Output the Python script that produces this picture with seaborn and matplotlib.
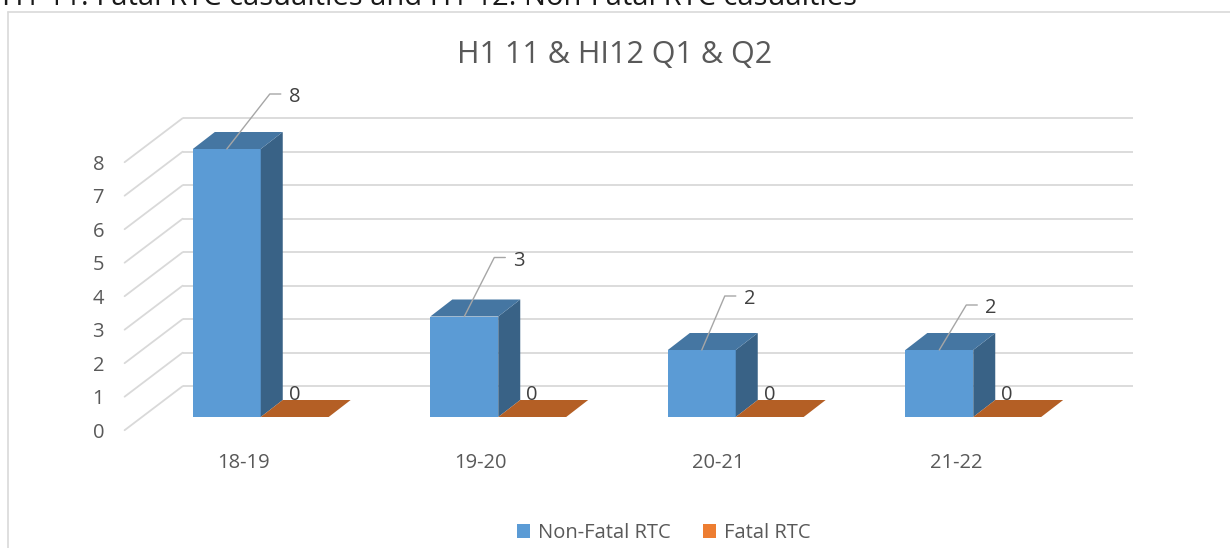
import matplotlib
matplotlib.use("Agg")
import numpy as np
import pandas as pd
import matplotlib.pyplot as plt
import matplotlib.transforms as mtransforms
from matplotlib.patches import Polygon
from matplotlib.lines import Line2D
import seaborn as sns

# ---- data -------------------------------------------------------------
periods = ["18-19", "19-20", "20-21", "21-22"]
non_fatal = [8, 3, 2, 2]
fatal = [0, 0, 0, 0]
series_names = ["Non-Fatal RTC", "Fatal RTC"]
y_ticks = [0, 1, 2, 3, 4, 5, 6, 7, 8]
chart_title = "H1 11 & HI12 Q1 & Q2"
heading = "H1 11: Fatal RTC casualties and H1 12: Non-Fatal RTC casualties"

# ---- style ------------------------------------------------------------
W, H, DPI = 1230, 548, 100
BLUE, ORANGE = "#5B9BD5", "#ED7D31"
GRID = "#D9D9D9"
TICK_COLOR = "#595959"
LABEL_COLOR = "#404040"
FS = 14.5

# pseudo-3D geometry (pixels): offsets of the front and back planes
# relative to the plane of the column faces, and column depth
FRONT = (-17.4, -13.2)
BACK = (40.6, 30.8)
DEPTH = (22.0, 17.0)
# leader line (dx, rise) for each callout, in pixels
LEADERS = [(43, 55), (30, 59), (23, 54), (27, 45)]

sns.set_theme(style="white")
plt.rcParams["font.family"] = ["Open Sans", "DejaVu Sans"]

fig = plt.figure(figsize=(W / DPI, H / DPI), dpi=DPI)
fig.patch.set_facecolor("white")
ax = fig.add_axes([142 / W, (H - 417) / H, 950 / W, 268 / H])

df = pd.DataFrame({
    "period": periods * 2,
    "count": non_fatal + fatal,
    "series": [series_names[0]] * len(periods) + [series_names[1]] * len(periods),
})

sns.barplot(data=df, x="period", y="count", hue="series", order=periods,
            hue_order=series_names, palette=[BLUE, ORANGE], saturation=1,
            width=0.572, dodge=True, linewidth=0, zorder=3, ax=ax)

ax.set_xlim(-0.5, len(periods) - 0.5)
ax.set_ylim(0, max(y_ticks))
ax.set_yticks(y_ticks)
ax.set_xlabel("")
ax.set_ylabel("")
ax.tick_params(left=False, bottom=False, labelleft=False, labelbottom=False)
for s in ax.spines.values():
    s.set_visible(False)
ax.patch.set_alpha(0)

pix = mtransforms.Affine2D().scale(1 / DPI) + fig.dpi_scale_trans


def at(x, y, base):
    """Pixel-unit transform anchored at point (x, y) of `base`."""
    return pix + mtransforms.ScaledTranslation(x, y, base)


yax = ax.get_yaxis_transform()
back_shift = mtransforms.ScaledTranslation(BACK[0] / DPI, BACK[1] / DPI, fig.dpi_scale_trans)

# back wall gridlines and side wall diagonals
ax.hlines(ax.get_yticks(), 0, 1, transform=yax + back_shift, color=GRID,
          lw=1.3, zorder=0.5, clip_on=False)
for v in ax.get_yticks():
    ax.add_line(Line2D([FRONT[0], BACK[0]], [FRONT[1], BACK[1]],
                       transform=at(0, v, yax), color=GRID, lw=1.3,
                       zorder=0.5, clip_on=False))
    ax.text(-38, FRONT[1] - 7.5, f"{v:g}", transform=at(0, v, yax),
            ha="right", va="baseline", fontsize=FS, color=TICK_COLOR)

# category labels on the front plane
for pos, lab in zip(ax.get_xticks(), periods):
    ax.text(FRONT[0], -51, lab, transform=at(pos, 0, ax.transData),
            ha="center", va="baseline", fontsize=FS, color=TICK_COLOR)

# depth faces for every column
bars = [p for p in ax.patches if p.get_width() > 0]
bbox = ax.get_window_extent()
ux = bbox.width / (ax.get_xlim()[1] - ax.get_xlim()[0])
uy = bbox.height / (ax.get_ylim()[1] - ax.get_ylim()[0])
ddx, ddy = DEPTH[0] / ux, DEPTH[1] / uy

for p in bars:
    x0, w, h = p.get_x(), p.get_width(), p.get_height()
    x1 = x0 + w
    rgb = np.array(p.get_facecolor()[:3])
    side = Polygon([(x1, 0), (x1, h), (x1 + ddx, h + ddy), (x1 + ddx, ddy)],
                   closed=True, facecolor=rgb * 0.63, lw=0, zorder=3, clip_on=False)
    top = Polygon([(x0, h), (x1, h), (x1 + ddx, h + ddy), (x0 + ddx, h + ddy)],
                  closed=True, facecolor=rgb * 0.76, lw=0, zorder=3, clip_on=False)
    ax.add_patch(side)
    ax.add_patch(top)

# value callouts
n = len(periods)
for p, (dx, rise) in zip(bars[:n], LEADERS):
    cx, h = p.get_x() + p.get_width() / 2, p.get_height()
    tr = at(cx, h, ax.transData)
    ax.add_line(Line2D([0, dx, dx + 11], [0, rise, rise], transform=tr,
                       color="#A6A6A6", lw=1.0, zorder=4, clip_on=False))
    ax.text(dx + 19, rise - 8, f"{h:g}", transform=tr, ha="left",
            va="baseline", fontsize=FS, color=LABEL_COLOR)
for p in bars[n:]:
    cx, h = p.get_x() + p.get_width() / 2, p.get_height()
    ax.text(0, 17.5, f"{h:g}", transform=at(cx, h, ax.transData),
            ha="center", va="baseline", fontsize=FS, color=LABEL_COLOR, zorder=5)

# legend
sns.move_legend(ax, "center", bbox_to_anchor=((664 - 142) / 950, (417 - 533) / 268),
                ncol=2, frameon=False, title=None, fontsize=14.5,
                handlelength=0.65, handleheight=0.65, handletextpad=0.4,
                columnspacing=1.6)
for t in ax.get_legend().get_texts():
    t.set_color(TICK_COLOR)

# chart title
fig.text(0.5, (H - 63) / H, chart_title, ha="center", va="baseline",
         fontsize=22, color=TICK_COLOR)

# heading above the chart frame and the frame itself
fig.text(2 / W, (H - 5) / H, heading, ha="left", va="baseline",
         fontsize=21, color="#1a1a1a")
fig.add_artist(Line2D([8 / W, 1], [(H - 12) / H] * 2, transform=fig.transFigure,
                      color=GRID, lw=1.2))
fig.add_artist(Line2D([8 / W] * 2, [0, (H - 12) / H], transform=fig.transFigure,
                      color=GRID, lw=1.2))

fig.savefig("out.png", dpi=DPI, facecolor="white")
